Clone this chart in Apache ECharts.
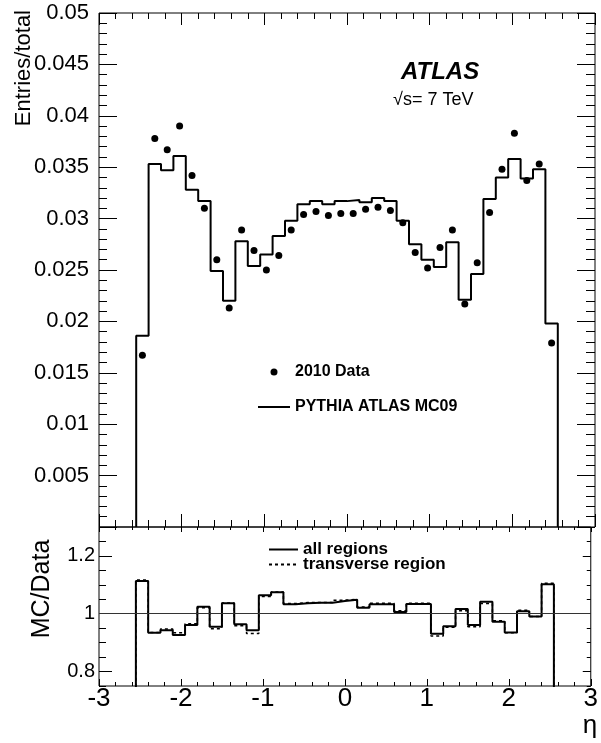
<!DOCTYPE html>
<html>
<head>
<meta charset="utf-8">
<script src="https://cdn.jsdelivr.net/npm/echarts@6/dist/echarts.min.js"></script>
<style>
  html, body { margin: 0; padding: 0; background: #fff; }
  #chart { width: 601px; height: 743px; }
</style>
</head>
<body>
<div id="chart"></div>
<script>
// bin edges in eta (34 bins)
const etaEdges = [-2.55, -2.4, -2.25, -2.1, -1.95, -1.8, -1.65, -1.5, -1.35, -1.2, -1.05, -0.9,
  -0.75, -0.6, -0.45, -0.3, -0.15, 0, 0.15, 0.3, 0.45, 0.6, 0.75, 0.9, 1.05, 1.2, 1.35, 1.5,
  1.65, 1.8, 1.95, 2.1, 2.25, 2.4, 2.55];

// Entries/total, 2010 data points
const dataVals = [0.0167, 0.0378, 0.0367, 0.0390, 0.0342, 0.0310, 0.0260, 0.0213, 0.0289, 0.0269,
  0.0250, 0.0264, 0.0289, 0.0304, 0.0307, 0.0303, 0.0305, 0.0305, 0.0309, 0.0311, 0.0308, 0.0296,
  0.0267, 0.0252, 0.0272, 0.0289, 0.0217, 0.0257, 0.0306, 0.0348, 0.0383, 0.0337, 0.0353, 0.0179];

// Entries/total, PYTHIA ATLAS MC09 histogram
const mcVals = [0.0186, 0.0353, 0.0347, 0.0361, 0.0328, 0.0317, 0.0249, 0.0220, 0.0278, 0.0254,
  0.0265, 0.0283, 0.0298, 0.0314, 0.0317, 0.0314, 0.0317, 0.0318, 0.0316, 0.0320, 0.0317, 0.0298,
  0.0275, 0.0260, 0.0253, 0.0277, 0.0221, 0.0246, 0.0319, 0.0340, 0.0358, 0.0339, 0.0348, 0.0198];

// MC/Data ratios
const ratioAll = [1.113, 0.934, 0.943, 0.926, 0.961, 1.024, 0.955, 1.036, 0.964, 0.943, 1.064, 1.074,
  1.033, 1.036, 1.038, 1.038, 1.044, 1.048, 1.021, 1.033, 1.033, 1.006, 1.034, 1.034, 0.931, 0.957,
  1.016, 0.961, 1.041, 0.972, 0.935, 1.009, 0.990, 1.102];
const ratioTrans = [1.117, 0.935, 0.947, 0.934, 0.965, 1.021, 0.948, 1.037, 0.958, 0.932, 1.060, 1.075,
  1.035, 1.039, 1.039, 1.039, 1.047, 1.050, 1.023, 1.036, 1.036, 1.010, 1.036, 1.036, 0.923, 0.953,
  1.010, 0.955, 1.035, 0.976, 0.934, 1.012, 0.990, 1.105];

const ratioLabels = [0.8, 1, 1.2];

const FONT = "Liberation Sans";

// step outline: start at zero, one point per left edge, close at last edge
function histLine(vals) {
  const pts = [[etaEdges[0], 0]];
  vals.forEach((v, i) => pts.push([etaEdges[i], v]));
  pts.push([etaEdges[etaEdges.length - 1], vals[vals.length - 1]]);
  pts.push([etaEdges[etaEdges.length - 1], 0]);
  return pts;
}

const dataPts = dataVals.map((v, i) => [(etaEdges[i] + etaEdges[i + 1]) / 2, v]);

function xAx(grid, pos, major, minor, labels) {
  return {
    type: "value", gridIndex: grid, position: pos, min: -3, max: 3, interval: 1,
    axisLine: { show: false, onZero: false },
    axisTick: { show: true, inside: true, length: major, lineStyle: { color: "#000" } },
    minorTick: { show: minor > 0, splitNumber: 5, length: minor, lineStyle: { color: "#000" } },
    splitLine: { show: false },
    axisLabel: labels
      ? { show: true, margin: 0, color: "#000", fontFamily: FONT, fontSize: 26 }
      : { show: false },
  };
}

function yAx(grid, pos, min, max, tick, extra) {
  return Object.assign({
    type: "value", gridIndex: grid, position: pos, min: min, max: max,
    axisLine: { show: false, onZero: false },
    axisTick: Object.assign({ inside: true, lineStyle: { color: "#000" } }, tick),
    splitLine: { show: false },
    axisLabel: { show: false },
  }, extra);
}

const legendText = { color: "#000", fontFamily: FONT, fontWeight: "bold", fontSize: 16 };
const noSymbol = { color: "rgba(0,0,0,0)", borderWidth: 0, opacity: 0 };

const chart = echarts.init(document.getElementById("chart"));
chart.setOption({
  animation: false,
  grid: [
    { left: 99, top: 13, width: 496, height: 514, show: true, borderColor: "#000", borderWidth: 1 },
    { left: 99, top: 527, width: 496, height: 159, show: true, borderColor: "#000", borderWidth: 1 },
  ],
  xAxis: [
    xAx(0, "bottom", 13, 7, false),
    xAx(0, "top", 12, 6, false),
    xAx(1, "bottom", 7, 4, true),
    xAx(1, "top", 5, 3, false),
  ],
  yAxis: [
    yAx(0, "left", 0, 0.05, { length: 18 }, {
      interval: 0.005,
      minorTick: { show: true, splitNumber: 5, length: 8, lineStyle: { color: "#000" } },
      axisLabel: {
        margin: 10, color: "#000", fontFamily: FONT, fontSize: 22,
        formatter: (v) => (v === 0 ? "" : String(+v.toFixed(3))),
      },
    }),
    yAx(0, "right", 0, 0.05, { length: 18 }, {
      interval: 0.005,
      minorTick: { show: true, splitNumber: 5, length: 9, lineStyle: { color: "#000" } },
    }),
    yAx(1, "left", 0.75, 1.3, { length: 7 }, { interval: 0.05 }),
    yAx(1, "left", 0.75, 1.3, { length: 13, customValues: ratioLabels }, {
      axisLabel: {
        customValues: ratioLabels, margin: 4, color: "#000", fontFamily: FONT, fontSize: 20,
        formatter: (v) => String(+v.toFixed(2)),
      },
    }),
    yAx(1, "right", 0.75, 1.3, { length: 4 }, { interval: 0.05 }),
    yAx(1, "right", 0.75, 1.3, { length: 8, customValues: ratioLabels }, {}),
  ],
  legend: [
    {
      orient: "vertical", left: 257, top: 364, padding: 0, itemGap: 19,
      itemWidth: 32, itemHeight: 7, selectedMode: false,
      data: [
        { name: "2010 Data", icon: "circle" },
        { name: "PYTHIA ATLAS MC09", itemStyle: noSymbol },
      ],
      textStyle: legendText,
    },
    {
      orient: "vertical", left: 268, top: 541, padding: 0, itemGap: -2,
      itemWidth: 29, itemHeight: 7, selectedMode: false,
      itemStyle: noSymbol,
      data: ["all regions", "transverse region"],
      textStyle: Object.assign({}, legendText, { fontSize: 17 }),
    },
  ],
  series: [
    {
      name: "PYTHIA ATLAS MC09", type: "line", xAxisIndex: 0, yAxisIndex: 0,
      step: "end", symbol: "none", color: "#000",
      lineStyle: { color: "#000", width: 2 },
      data: histLine(mcVals),
    },
    {
      name: "2010 Data", type: "scatter", xAxisIndex: 0, yAxisIndex: 0,
      symbol: "circle", symbolSize: 7, color: "#000",
      itemStyle: { color: "#000", opacity: 1 },
      data: dataPts,
    },
    {
      name: "transverse region", type: "line", xAxisIndex: 2, yAxisIndex: 2,
      step: "end", symbol: "none", color: "#000",
      lineStyle: { color: "#000", width: 1.5, type: [3, 3] },
      data: histLine(ratioTrans),
    },
    {
      name: "all regions", type: "line", xAxisIndex: 2, yAxisIndex: 2,
      step: "end", symbol: "none", color: "#000",
      lineStyle: { color: "#000", width: 2 },
      data: histLine(ratioAll),
      markLine: {
        silent: true, symbol: "none", label: { show: false },
        lineStyle: { color: "#333", width: 1, type: "solid" },
        data: [{ yAxis: 1 }],
      },
    },
  ],
  graphic: [
    {
      type: "text", x: 401, y: 72,
      style: { text: "ATLAS", fill: "#000", fontFamily: FONT, fontSize: 24, fontWeight: "bold",
        fontStyle: "italic", align: "left", verticalAlign: "middle" },
    },
    {
      type: "text", x: 393, y: 100,
      style: { text: "√s= 7 TeV", fill: "#000", fontFamily: FONT, fontSize: 18,
        align: "left", verticalAlign: "middle" },
    },
    {
      type: "text", x: 24, y: 10, rotation: Math.PI / 2,
      style: { text: "Entries/total", fill: "#000", fontFamily: FONT, fontSize: 22,
        align: "right", verticalAlign: "middle" },
    },
    {
      type: "text", x: 42, y: 589, rotation: Math.PI / 2,
      style: { text: "MC/Data", fill: "#000", fontFamily: FONT, fontSize: 25,
        align: "center", verticalAlign: "middle" },
    },
    {
      type: "text", x: 590, y: 726,
      style: { text: "η", fill: "#000", fontFamily: FONT, fontSize: 26,
        align: "center", verticalAlign: "middle" },
    },
  ],
});
</script>
</body>
</html>
